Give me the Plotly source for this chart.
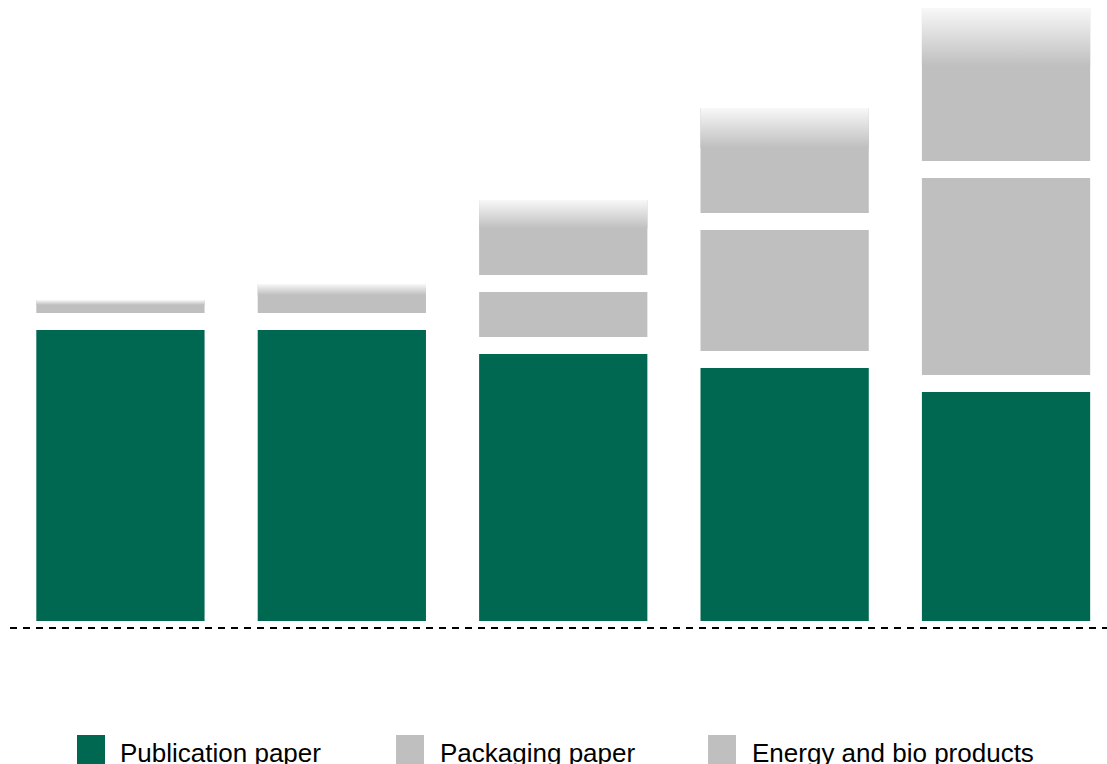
import plotly.graph_objects as go

# ---- data (arbitrary units) ----
categories = ["A", "B", "C", "D", "E"]
publication = [291, 291, 267, 253, 229]
packaging = [0, 0, 45, 121, 197]
energy = [13, 29, 75, 105, 153]
legend_labels = ["Publication paper", "Packaging paper", "Energy and bio products"]

# ---- style ----
GREEN = "#006750"
GRAY = "#bfbfbf"
LIGHT = "#f8f8f8"
GAP = 17
BAR_W = 0.76
FADE = 0.38  # top fraction of the energy segment that fades out
W, H = 1107, 764
MB = 136
PLOT_H = H - MB

xpos = list(range(len(categories)))

pack_base = [p + GAP if k > 0 else p for p, k in zip(publication, packaging)]
energy_base = [b + k + GAP if k > 0 else p + GAP
               for b, k, p in zip(pack_base, packaging, publication)]

fig = go.Figure()
fig.add_bar(x=xpos, y=publication, base=[0] * len(xpos), width=BAR_W,
            marker=dict(color=GREEN, line=dict(width=0)), name=legend_labels[0],
            showlegend=False)
fig.add_bar(x=xpos, y=packaging, base=pack_base, width=BAR_W,
            marker=dict(color=GRAY, line=dict(width=0)), name=legend_labels[1],
            showlegend=False)
fig.add_bar(x=xpos, y=energy, base=energy_base, width=BAR_W,
            marker=dict(color=GRAY, line=dict(width=0)), name=legend_labels[2],
            showlegend=False)

# gradient fade at the top of each energy segment
for i, (b, e) in enumerate(zip(energy_base, energy)):
    top = b + e
    lo = top - FADE * e
    x0, x1 = xpos[i] - BAR_W / 2, xpos[i] + BAR_W / 2
    fig.add_scatter(x=[x0, x1, x1, x0, x0], y=[lo, lo, top, top, lo],
                    mode="lines", line=dict(width=0), fill="toself",
                    fillgradient=dict(type="vertical",
                                      colorscale=[[0, GRAY], [1, LIGHT]],
                                      start=lo, stop=top),
                    hoverinfo="skip", showlegend=False)

fig.update_layout(
    barmode="overlay",
    width=W, height=H,
    margin=dict(l=0, r=0, t=0, b=MB),
    paper_bgcolor="white", plot_bgcolor="white",
    xaxis=dict(range=[-0.544, 4.456], visible=False, fixedrange=True),
    yaxis=dict(range=[-7, PLOT_H - 7], visible=False, fixedrange=True),
    showlegend=False,
    font=dict(family="Liberation Sans, Arial, sans-serif", size=26, color="black"),
)

# dashed baseline (paper-referenced so it is not clipped)
fig.add_shape(type="line", xref="paper", yref="paper", x0=10 / W, x1=1, y0=0, y1=0,
              line=dict(color="black", width=2, dash="7px,6px"))

# custom legend
leg_sq_x = [77, 396, 708]
leg_txt_x = [120, 440, 752]
colors = [GREEN, GRAY, GRAY]


def py(p):
    return (PLOT_H - p) / PLOT_H


for sx, tx, c, lab in zip(leg_sq_x, leg_txt_x, colors, legend_labels):
    fig.add_shape(type="rect", xref="paper", yref="paper",
                  x0=sx / W, x1=(sx + 28) / W, y0=py(766), y1=py(735),
                  fillcolor=c, line=dict(width=0))
    fig.add_annotation(xref="paper", yref="paper", x=(tx - 2) / W, y=py(753),
                       xanchor="left", yanchor="middle", showarrow=False,
                       text=lab, font=dict(size=26, color="black"))

fig.write_html("out.html")
